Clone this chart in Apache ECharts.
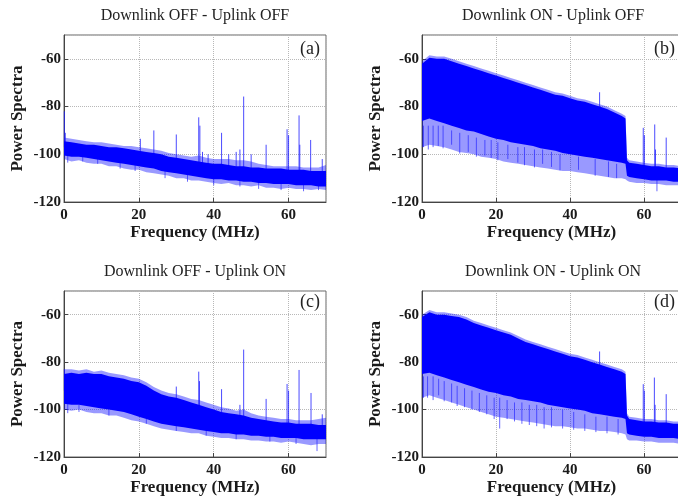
<!DOCTYPE html>
<html>
<head>
<meta charset="utf-8">
<script src="https://cdn.jsdelivr.net/npm/echarts@6/dist/echarts.min.js"></script>
<style>
  html, body { margin: 0; padding: 0; background: #fff; }
  #chart { width: 678px; height: 497px; }
</style>
</head>
<body>
<div id="chart"></div>
<script>
// sample frequencies (MHz) for the envelopes
const FREQ_AC = [0,2,4,6,8,10,12,14,16,18,20,22,24,26,28,30,32,34,36,38,40,42,44,46,48,50,52,54,56,58,60,62,64,66,68,70];
const FREQ_BD = [0,2,4,6,8,10,12,14,16,18,20,22,24,26,28,30,32,34,36,38,40,42,44,46,48,50,52,54,55,55.4,56,58,60,62,64,66,68,70];

// (a) Downlink OFF - Uplink OFF
const UP_A  = [-94.5,-95,-95.5,-96,-96,-96.5,-97,-97,-97.5,-98,-98.5,-99,-99.5,-100,-101,-101.5,-102,-102.5,-103,-103.5,-104,-104,-104.5,-105,-105,-105.5,-105.5,-106,-106,-106,-106.5,-106.5,-106.5,-107,-107,-107];
const LOW_A = [-100.5,-101,-101,-101.5,-102,-102.5,-103,-103.5,-104,-104.5,-105,-105.5,-106,-107,-107.5,-108,-108.5,-109,-109.5,-110,-110.5,-110.5,-111,-111,-111.5,-111.5,-112,-112,-112.5,-112.5,-112.5,-113,-113,-113,-113.5,-113.5];
const HI_A  = [-93,-93.5,-94,-94.5,-95,-95,-95.5,-96,-96.5,-96.5,-97,-97.5,-98,-98.5,-99.5,-100,-100.5,-101,-100.5,-101.5,-102,-102,-102,-102.5,-102.5,-103,-104,-104.5,-105,-105,-105,-105,-105.5,-105.5,-105.5,-104.5];
const FLO_A = [-102,-103,-102.5,-103.5,-104,-104,-105,-105,-106,-106.5,-106.5,-107.5,-108,-108.5,-109,-110,-110,-111,-111,-111.5,-112,-112.5,-112,-113,-113,-113.5,-113,-114,-114,-114.5,-114,-114.5,-114.5,-115,-114.5,-115];
// spikes: [freq, peak, foot]
const SPIKES_A = [[0.1,-82,-97],[0.35,-91,-97],[20.4,-93.5,-101],[24,-90,-102],[30,-91.7,-104],[36,-84.5,-106],[36.3,-88,-106],[37,-99,-106],[38.5,-100,-106],[42.1,-91,-107],[44,-100,-107],[46,-99,-107],[47,-98,-107],[48,-75.8,-108],[50,-100,-108],[54,-96,-108],[59.6,-89.5,-109],[60,-92,-109],[62.8,-83.7,-109],[63,-96,-109],[65.9,-94,-110],[69,-102,-110]];
// dips: [freq, depth, top]
const DIPS_A = [[1,-103.5,-100],[5,-103,-100],[9,-104,-101],[15,-106,-103],[19,-107,-104],[27,-110,-106],[33,-111.5,-108],[40,-113,-110],[47,-113.5,-111],[52,-114.5,-111],[58,-115,-112],[64,-115.5,-112],[68,-115,-113]];

// (b) Downlink ON - Uplink OFF
const UP_B  = [-62,-59.5,-60,-60,-61,-62,-63,-64,-65,-66,-67,-68,-69,-70,-71,-72,-73,-74,-75,-75.5,-76.5,-77.5,-78,-79,-80,-81,-82.5,-84,-85,-102.5,-103.5,-104,-104.5,-105,-105,-105.5,-105.5,-106];
const LOW_B = [-86,-85,-86,-87,-88,-89,-90,-90.5,-91.5,-92.5,-93.5,-94,-95,-95.5,-96,-96.5,-97.5,-98,-98.5,-99.5,-100,-100.5,-101,-101.5,-102,-102.5,-103,-103.5,-104,-109,-109.5,-110,-110.5,-111,-111,-111,-111.5,-111.5];
const HI_B  = [-61,-58.5,-59,-59,-60,-61,-62,-63,-64,-65,-66,-67,-68,-69,-70,-71,-72,-73,-74,-74.5,-75.5,-76.5,-77,-78,-79,-80,-81.5,-83,-84,-101.5,-102.5,-103,-103.5,-104,-104,-104.5,-104.5,-105];
const FLO_B = [-97,-96,-96.5,-97,-98,-99,-99.5,-100,-101,-101.5,-102,-103,-103.5,-104,-104.5,-105,-105.5,-106,-106.5,-107,-107,-107.5,-108,-108.5,-109,-109.5,-110,-110,-110.5,-111,-111.5,-112,-112,-112.5,-112.5,-113,-113,-113];
const SPIKES_B = [[48,-74,-90],[59.8,-88.9,-108],[60.1,-92,-108],[62.9,-87.5,-108],[63.1,-98,-108],[66,-93,-108],[69.5,-100,-109]];
const DIPS_B = [[0.4,-97,-88],[1.7,-98,-88],[3,-97,-88],[4.4,-96.5,-88],[5.7,-97.5,-88],[8,-96,-90],[10.2,-99.7,-91],[12.5,-99,-92],[14.7,-101,-93],[17,-100.5,-94],[18.7,-101.5,-94],[20.5,-102.5,-95],[23.2,-102,-96],[25.9,-103.5,-97],[27.7,-104.6,-97],[30.4,-105.5,-98],[32.6,-104,-98],[35,-105.3,-99],[37.3,-106.7,-100],[42.3,-106.5,-101],[46.8,-109,-102],[50.4,-109.5,-103],[52.6,-110,-104],[63.5,-115.5,-108]];

// (c) Downlink OFF - Uplink ON
const UP_C  = [-85,-84.5,-85,-84.5,-85,-85,-86,-86.5,-87,-88,-88.5,-90,-92,-93.5,-94.5,-95,-96,-97,-98,-99,-100,-101,-101.5,-102,-102.5,-103.5,-104,-104.5,-105,-105.5,-105.5,-106,-106,-106,-106.5,-106.5];
const LOW_C = [-97.5,-98,-98,-98.5,-99,-99.5,-100,-100.5,-101,-102,-103,-104,-105,-106,-106.5,-107,-107.5,-108,-108.5,-109,-109.5,-110,-110,-110.5,-110.5,-111,-111,-111.5,-111.5,-112,-112,-112,-112.5,-112.5,-112.5,-112.5];
const HI_C  = [-83,-83,-83.5,-83,-84,-83.5,-84.5,-85,-85.5,-86.5,-87,-88.5,-90.5,-92,-93,-93.5,-94.5,-95.5,-96,-97,-98,-99,-99.5,-100.5,-100,-101.5,-102.5,-103,-103.5,-104,-104,-104.5,-104.5,-104.5,-104,-103.5];
const FLO_C = [-100,-100.5,-100,-101,-101.5,-101.5,-102.5,-102.5,-103.5,-104.5,-105,-106,-107,-108,-108.5,-109,-109.5,-110,-110,-111,-111.5,-112,-112,-112.5,-112.5,-113,-113,-113.5,-113.5,-114,-113.5,-114,-114.5,-115,-114.5,-114.5];
const SPIKES_C = [[0.1,-83,-92],[30,-90.3,-101],[36,-84,-104],[36.2,-88,-104],[42.1,-91.4,-106],[47,-98,-107],[48,-74.7,-107],[54,-95.5,-108],[59.6,-89.2,-109],[60,-92,-109],[62.8,-83.3,-109],[66,-93,-110],[69,-102,-110]];
const DIPS_C = [[1,-101.5,-97],[4,-101,-98],[12,-102.5,-100],[22,-106,-104],[30,-109,-107],[38,-111,-109],[46,-112.5,-110],[55,-113.5,-111],[62,-114.5,-112],[67.6,-117.5,-110]];

// (d) Downlink ON - Uplink ON
const UP_D  = [-61,-59,-60,-60,-60.5,-61,-62,-63.5,-64.5,-65.5,-66.5,-67.5,-68.5,-70,-71.5,-72.5,-73.5,-74.5,-75.5,-76.5,-77.5,-78,-79,-80,-81,-82,-83,-84,-85,-102.5,-104,-104.5,-105,-105,-105.5,-105.5,-106,-106];
const LOW_D = [-85,-84.5,-85.5,-86.5,-87.5,-88.5,-89.5,-90.5,-91.5,-92.5,-93,-94,-94.5,-95.5,-96,-96.5,-97,-98,-98.5,-99,-99.5,-100,-100.5,-101.5,-102,-102.5,-103,-103.5,-104,-110,-110.5,-111,-111.5,-111.5,-112,-112,-112,-112.5];
const HI_D  = [-60,-58,-59,-59,-59.5,-60,-61,-62.5,-63.5,-64.5,-65.5,-66.5,-67.5,-69,-70.5,-71.5,-72.5,-73.5,-74.5,-75.5,-76.5,-77,-78,-79,-80,-81,-82,-83,-84,-101.5,-103,-103.5,-104,-104,-104.5,-104.5,-105,-105];
const FLO_D = [-95,-94,-95,-96,-97,-98,-99,-100,-101,-102,-103,-103.5,-104,-104.5,-105,-105.5,-106,-106.5,-107,-107,-107.5,-108,-108,-108.5,-109,-109,-109.5,-110,-110.5,-112.5,-113,-113,-113.5,-113.5,-114,-114,-114,-114.5];
const SPIKES_D = [[48,-75.5,-90],[59.8,-89.3,-108],[60.1,-92,-108],[62.8,-86.5,-108],[63,-98,-108],[66,-93.5,-109],[69.5,-100,-109]];
const DIPS_D = [[0.4,-95,-86],[1.5,-95,-86],[3,-96,-86],[4.5,-94,-87],[6,-96.5,-88],[8,-97,-89],[9.5,-98.5,-90],[11.5,-99,-91],[13.5,-100,-92],[15.5,-101,-93],[17.5,-102,-94],[19.5,-104,-95],[21,-108,-95],[23,-104,-96],[25,-105,-97],[27,-106,-97],[29,-106.5,-98],[31,-107,-98],[33,-108,-99],[35,-107.5,-99],[38,-108,-100],[41,-108.5,-101],[44,-109,-102],[47,-109.5,-103],[50,-110,-103],[53,-110.5,-104]];

const TITLES = ['Downlink OFF - Uplink OFF', 'Downlink ON - Uplink OFF', 'Downlink OFF - Uplink ON', 'Downlink ON - Uplink ON'];
const TAGS = ['(a)', '(b)', '(c)', '(d)'];

const panels = [
  { f: FREQ_AC, up: UP_A, low: LOW_A, hi: HI_A, lo: FLO_A, spikes: SPIKES_A, dips: DIPS_A },
  { f: FREQ_BD, up: UP_B, low: LOW_B, hi: HI_B, lo: FLO_B, spikes: SPIKES_B, dips: DIPS_B },
  { f: FREQ_AC, up: UP_C, low: LOW_C, hi: HI_C, lo: FLO_C, spikes: SPIKES_C, dips: DIPS_C },
  { f: FREQ_BD, up: UP_D, low: LOW_D, hi: HI_D, lo: FLO_D, spikes: SPIKES_D, dips: DIPS_D }
];

const FONT = 'Liberation Serif';
const grids = [
  { left: 64, top: 35, width: 262, height: 167 },
  { left: 422, top: 35, width: 259, height: 167 },
  { left: 64, top: 291, width: 262, height: 166 },
  { left: 422, top: 291, width: 259, height: 166 }
];

const BLUE = '#0000ff';

// filled band between two envelopes
function band(i, f, top, bot, fill, z) {
  return {
    type: 'custom', xAxisIndex: i, yAxisIndex: i, z: z, silent: true,
    data: [[f[0], top[0]]],
    renderItem: function (params, api) {
      const pts = [];
      for (let k = 0; k < f.length; k++) pts.push(api.coord([f[k], top[k]]));
      for (let k = f.length - 1; k >= 0; k--) pts.push(api.coord([f[k], bot[k]]));
      return { type: 'polygon', shape: { points: pts }, style: { fill: fill } };
    }
  };
}

// vertical lines [freq, v1, v2]
function sticks(i, rows, color, z) {
  return {
    type: 'custom', xAxisIndex: i, yAxisIndex: i, z: z, silent: true,
    data: rows,
    renderItem: function (params, api) {
      const a = api.coord([api.value(0), api.value(1)]);
      const b = api.coord([api.value(0), api.value(2)]);
      return { type: 'line', shape: { x1: a[0], y1: a[1], x2: b[0], y2: b[1] }, style: { stroke: color, lineWidth: 1 } };
    }
  };
}

const series = [];
panels.forEach((p, i) => {
  series.push(band(i, p.f, p.hi, p.lo, 'rgba(0,0,255,0.4)', 1));
  series.push(sticks(i, p.dips, 'rgba(40,40,255,0.7)', 2));
  series.push(sticks(i, p.spikes, 'rgba(30,30,255,0.8)', 2));
  series.push(band(i, p.f, p.up, p.low, BLUE, 3));
});

const axisText = { fontFamily: FONT, fontWeight: 'bold', fontSize: 15, color: '#1a1a1a' };
const nameText = { fontFamily: FONT, fontWeight: 'bold', fontSize: 17, color: '#1a1a1a' };

const option = {
  animation: false,
  backgroundColor: '#fff',
  grid: grids.map(g => Object.assign({ show: true, borderColor: '#666', borderWidth: 1, outerBoundsMode: 'none' }, g)),
  xAxis: grids.map((g, i) => ({
    gridIndex: i, type: 'value', min: 0, max: 70, interval: 20,
    name: 'Frequency (MHz)', nameLocation: 'middle', nameGap: 22, nameTextStyle: nameText,
    axisLine: { onZero: false, lineStyle: { color: '#444' } },
    axisTick: { inside: true, length: 4, lineStyle: { color: '#444' } },
    axisLabel: Object.assign({ margin: 6, showMaxLabel: false }, axisText),
    splitLine: { show: true, lineStyle: { color: '#b8b8b8', type: 'dotted' } }
  })),
  yAxis: grids.map((g, i) => ({
    gridIndex: i, type: 'value', min: -120, max: -50, interval: 20,
    name: 'Power Spectra', nameLocation: 'middle', nameGap: 38, nameTextStyle: nameText,
    axisLine: { onZero: false, lineStyle: { color: '#444' } },
    axisTick: { inside: true, length: 4, lineStyle: { color: '#444' } },
    axisLabel: Object.assign({ margin: 3, showMaxLabel: false }, axisText),
    splitLine: { show: true, lineStyle: { color: '#b8b8b8', type: 'dotted' } }
  })),
  graphic: grids.map((g, i) => ({
    type: 'text', x: g.left + 131, y: g.top - 19, z: 10,
    style: { text: TITLES[i], font: '16px "' + FONT + '"', fill: '#222', textAlign: 'center', textVerticalAlign: 'middle' }
  })).concat(grids.map((g, i) => ({
    type: 'text', x: g.left + g.width - 6, y: g.top + (i < 2 ? 14 : 11), z: 10,
    style: { text: TAGS[i], font: '18px "' + FONT + '"', fill: '#222', textAlign: 'right', textVerticalAlign: 'middle' }
  }))),
  series: series
};

const chart = echarts.init(document.getElementById('chart'), null, { renderer: 'canvas' });
chart.setOption(option);
</script>
</body>
</html>
